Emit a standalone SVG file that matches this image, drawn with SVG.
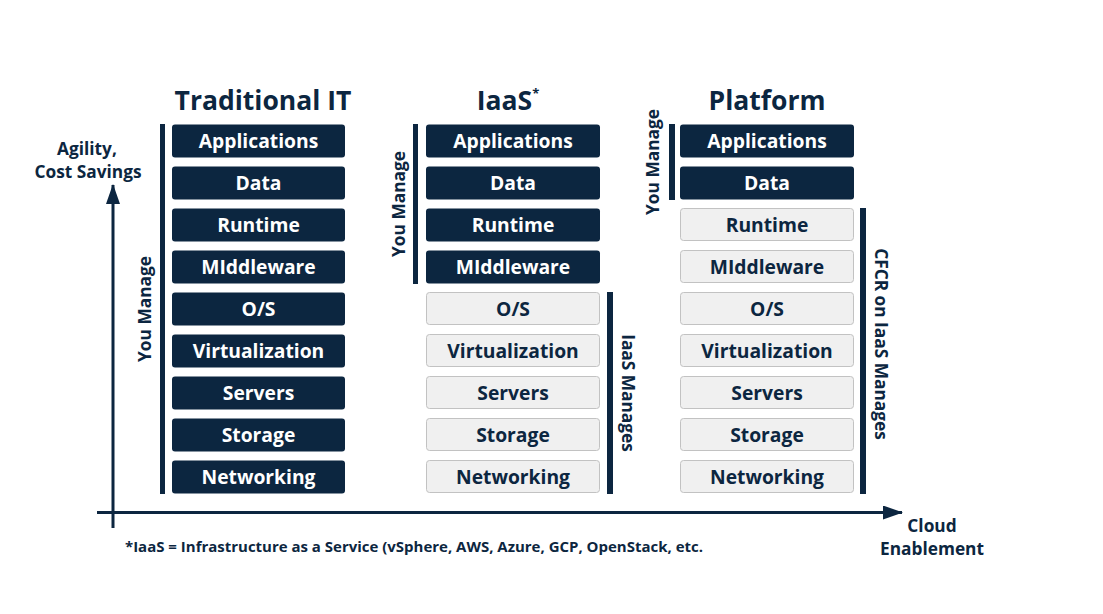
<svg xmlns="http://www.w3.org/2000/svg" width="1103" height="614" viewBox="0 0 1103 614">
<style>
text{font-family:"Open Sans","Liberation Sans",sans-serif;font-weight:700;fill:#0c2640}
.dk rect{fill:#0c2640}
.dk text{fill:#ffffff}
.lt rect{fill:#f0f0f0;stroke:#c2c2c2;stroke-width:1}
.box text{font-size:19.3px;text-anchor:middle}
.h{font-size:26.5px;text-anchor:middle}
.side{font-size:17.3px;text-anchor:middle}
.bar{fill:#0c2640}
.ax{stroke:#0c2640;stroke-width:3;fill:none}
</style>
<defs>
<marker id="ah" markerWidth="20" markerHeight="14" refX="19" refY="7" orient="auto" markerUnits="userSpaceOnUse">
<path d="M0,0 L20,7 L0,14 Z" fill="#0c2640"/>
</marker>
</defs>
<rect width="1103" height="614" fill="#ffffff"/>

<g id="axes">
<line class="ax" x1="113" y1="528" x2="113" y2="185" marker-end="url(#ah)"/>
<line class="ax" x1="97" y1="512.5" x2="902" y2="512.5" marker-end="url(#ah)"/>
</g>

<g id="labels">
<text class="h" x="263" y="110">Traditional IT</text>
<text class="h" x="508" y="110">IaaS<tspan font-size="13" dy="-12">*</tspan></text>
<text class="h" x="767" y="110">Platform</text>
<text class="side" x="87" y="155">Agility,</text>
<text class="side" x="88" y="178">Cost Savings</text>
<text class="side" x="932" y="532">Cloud</text>
<text class="side" x="932" y="555">Enablement</text>
<text x="125" y="552" font-size="13.5" textLength="578" lengthAdjust="spacingAndGlyphs">*IaaS = Infrastructure as a Service (vSphere, AWS, Azure, GCP, OpenStack, etc.</text>
</g>

<g id="bars">
<rect class="bar" x="160" y="124" width="5" height="370"/>
<text class="side" transform="translate(151,309) rotate(-90)">You Manage</text>
<rect class="bar" x="413" y="124" width="5" height="160"/>
<text class="side" transform="translate(405,204) rotate(-90)">You Manage</text>
<rect class="bar" x="607" y="292" width="6" height="202"/>
<text class="side" transform="translate(622,393) rotate(90)">IaaS Manages</text>
<rect class="bar" x="669" y="124" width="6" height="76"/>
<text class="side" transform="translate(659,162) rotate(-90)">You Manage</text>
<rect class="bar" x="860" y="208" width="6" height="286"/>
<text class="side" transform="translate(875,344) rotate(90)">CFCR on IaaS Manages</text>
</g>

<g id="trad" class="box">
<g id="t-app" class="dk"><rect x="172" y="124.5" width="173" height="33" rx="3"/><text x="258.5" y="148">Applications</text></g>
<g id="t-data" class="dk"><rect x="172" y="166.5" width="173" height="33" rx="3"/><text x="258.5" y="190">Data</text></g>
<g id="t-rt" class="dk"><rect x="172" y="208.5" width="173" height="33" rx="3"/><text x="258.5" y="232">Runtime</text></g>
<g id="t-mw" class="dk"><rect x="172" y="250.5" width="173" height="33" rx="3"/><text x="258.5" y="274">MIddleware</text></g>
<g id="t-os" class="dk"><rect x="172" y="292.5" width="173" height="33" rx="3"/><text x="258.5" y="316">O/S</text></g>
<g id="t-virt" class="dk"><rect x="172" y="334.5" width="173" height="33" rx="3"/><text x="258.5" y="358">Virtualization</text></g>
<g id="t-srv" class="dk"><rect x="172" y="376.5" width="173" height="33" rx="3"/><text x="258.5" y="400">Servers</text></g>
<g id="t-sto" class="dk"><rect x="172" y="418.5" width="173" height="33" rx="3"/><text x="258.5" y="442">Storage</text></g>
<g id="t-net" class="dk"><rect x="172" y="460.5" width="173" height="33" rx="3"/><text x="258.5" y="484">Networking</text></g>
</g>

<g id="iaas" class="box">
<g id="i-app" class="dk"><rect x="426" y="124.5" width="174" height="33" rx="3"/><text x="513" y="148">Applications</text></g>
<g id="i-data" class="dk"><rect x="426" y="166.5" width="174" height="33" rx="3"/><text x="513" y="190">Data</text></g>
<g id="i-rt" class="dk"><rect x="426" y="208.5" width="174" height="33" rx="3"/><text x="513" y="232">Runtime</text></g>
<g id="i-mw" class="dk"><rect x="426" y="250.5" width="174" height="33" rx="3"/><text x="513" y="274">MIddleware</text></g>
<g id="i-os" class="lt"><rect x="426.5" y="292.5" width="173" height="32" rx="3"/><text x="513" y="316">O/S</text></g>
<g id="i-virt" class="lt"><rect x="426.5" y="334.5" width="173" height="32" rx="3"/><text x="513" y="358">Virtualization</text></g>
<g id="i-srv" class="lt"><rect x="426.5" y="376.5" width="173" height="32" rx="3"/><text x="513" y="400">Servers</text></g>
<g id="i-sto" class="lt"><rect x="426.5" y="418.5" width="173" height="32" rx="3"/><text x="513" y="442">Storage</text></g>
<g id="i-net" class="lt"><rect x="426.5" y="460.5" width="173" height="32" rx="3"/><text x="513" y="484">Networking</text></g>
</g>

<g id="platform" class="box">
<g id="p-app" class="dk"><rect x="680" y="124.5" width="174" height="33" rx="3"/><text x="767" y="148">Applications</text></g>
<g id="p-data" class="dk"><rect x="680" y="166.5" width="174" height="33" rx="3"/><text x="767" y="190">Data</text></g>
<g id="p-rt" class="lt"><rect x="680.5" y="208.5" width="173" height="32" rx="3"/><text x="767" y="232">Runtime</text></g>
<g id="p-mw" class="lt"><rect x="680.5" y="250.5" width="173" height="32" rx="3"/><text x="767" y="274">MIddleware</text></g>
<g id="p-os" class="lt"><rect x="680.5" y="292.5" width="173" height="32" rx="3"/><text x="767" y="316">O/S</text></g>
<g id="p-virt" class="lt"><rect x="680.5" y="334.5" width="173" height="32" rx="3"/><text x="767" y="358">Virtualization</text></g>
<g id="p-srv" class="lt"><rect x="680.5" y="376.5" width="173" height="32" rx="3"/><text x="767" y="400">Servers</text></g>
<g id="p-sto" class="lt"><rect x="680.5" y="418.5" width="173" height="32" rx="3"/><text x="767" y="442">Storage</text></g>
<g id="p-net" class="lt"><rect x="680.5" y="460.5" width="173" height="32" rx="3"/><text x="767" y="484">Networking</text></g>
</g>
</svg>
